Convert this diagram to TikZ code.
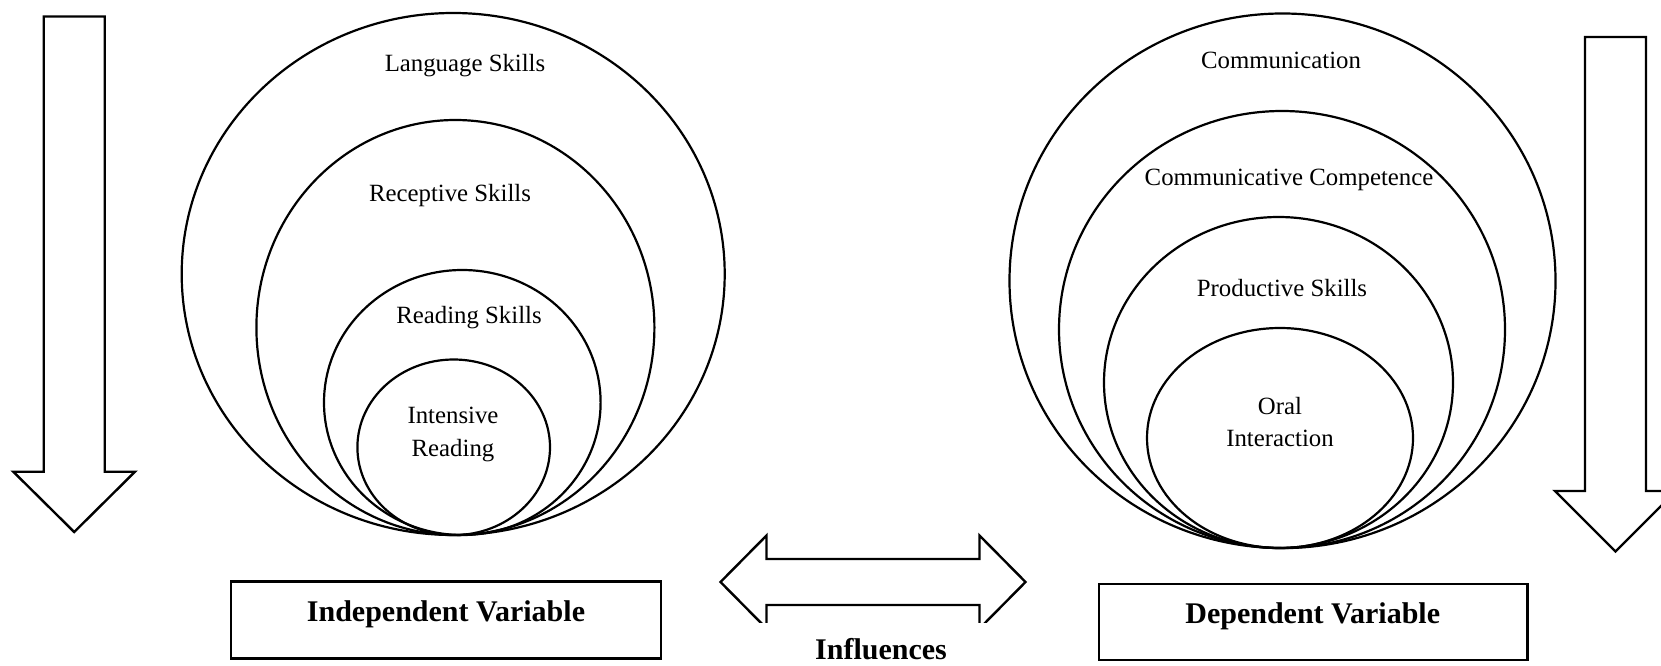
\documentclass[tikz,border=0pt]{standalone}
\usepackage{fontspec}
\setmainfont{Liberation Serif}
\usetikzlibrary{shapes.geometric}
\begin{document}
\begin{tikzpicture}[x=1pt, y=-1pt,
  ring/.style={draw, ellipse, line width=2.2pt, inner sep=0pt, outer sep=0pt},
  lbl/.style={anchor=base, inner sep=0pt, font=\fontsize{24.8}{30}\selectfont},
  varbox/.style={draw, rectangle, line width=2.6pt, inner sep=0pt},
  vartext/.style={anchor=base, inner sep=0pt, font=\fontsize{30}{36}\selectfont\bfseries},
  blockarrow/.style={draw, line width=2.4pt, line join=miter}]
\useasboundingbox (0,0) rectangle (1661,666);

% down arrow on the left
\draw[blockarrow] (43.7,16.5) -- (104.7,16.5) -- (104.7,471.7) -- (135,471.7)
  -- (74.2,532) -- (13.3,471.7) -- (43.7,471.7) -- cycle;

% down arrow on the right
\draw[blockarrow] (1585,37) -- (1646,37) -- (1646,491) -- (1676,491)
  -- (1615.5,551.5) -- (1555,491) -- (1585,491) -- cycle;

% nested rings: independent variable
\node[ring, minimum width=543pt, minimum height=522pt] (language) at (453.2,274) {};
\node[ring, minimum width=398pt, minimum height=415pt] (receptive) at (455.4,327.5) {};
\node[ring, minimum width=276.6pt, minimum height=265pt] (reading) at (462.3,402.5) {};
\node[ring, minimum width=192.6pt, minimum height=175.6pt] (intensive) at (453.7,447.3) {};

\node[lbl] (languageT) at (465,71.7) {Language Skills};
\node[lbl] (receptiveT) at (450,201.7) {Receptive Skills};
\node[lbl] (readingT) at (469,323.3) {Reading Skills};
\node[lbl] (intensiveT1) at (453,423.3) {Intensive};
\node[lbl] (intensiveT2) at (453,456.7) {Reading};

% nested rings: dependent variable
\node[ring, minimum width=546pt, minimum height=534.6pt] (communication) at (1282.5,280.8) {};
\node[ring, minimum width=446pt, minimum height=437pt] (competence) at (1282,329.5) {};
\node[ring, minimum width=349pt, minimum height=331pt] (productive) at (1278.5,382.5) {};
\node[ring, minimum width=266pt, minimum height=220pt] (oral) at (1280,438) {};

\node[lbl] (communicationT) at (1281,68.3) {Communication};
\node[lbl] (competenceT) at (1289,185) {Communicative Competence};
\node[lbl] (productiveT) at (1282,296) {Productive Skills};
\node[lbl] (oralT1) at (1280,414) {Oral};
\node[lbl] (oralT2) at (1280,446.7) {Interaction};

% variable boxes
\node[varbox, minimum width=430pt, minimum height=76.6pt] (indep) at (446,620) {};
\node[vartext] (indepT) at (446,621.5) {Independent Variable};
\node[varbox, minimum width=428.3pt, minimum height=76pt] (dep) at (1313.2,622) {};
\node[vartext] (depT) at (1312.7,623.3) {Dependent Variable};

% two-headed arrow, its lower edge hidden below the label
\begin{scope}
  \clip (700,520) rectangle (1040,622);
  \draw[blockarrow] (720.5,582) -- (766.5,535.5) -- (766.5,559) -- (979.5,559)
    -- (979.5,535.5) -- (1025.5,582) -- (979.5,628.5) -- (979.5,605)
    -- (766.5,605) -- (766.5,628.5) -- cycle;
\end{scope}
\node[vartext] (influences) at (881,659.5) {Influences};
\end{tikzpicture}
\end{document}
